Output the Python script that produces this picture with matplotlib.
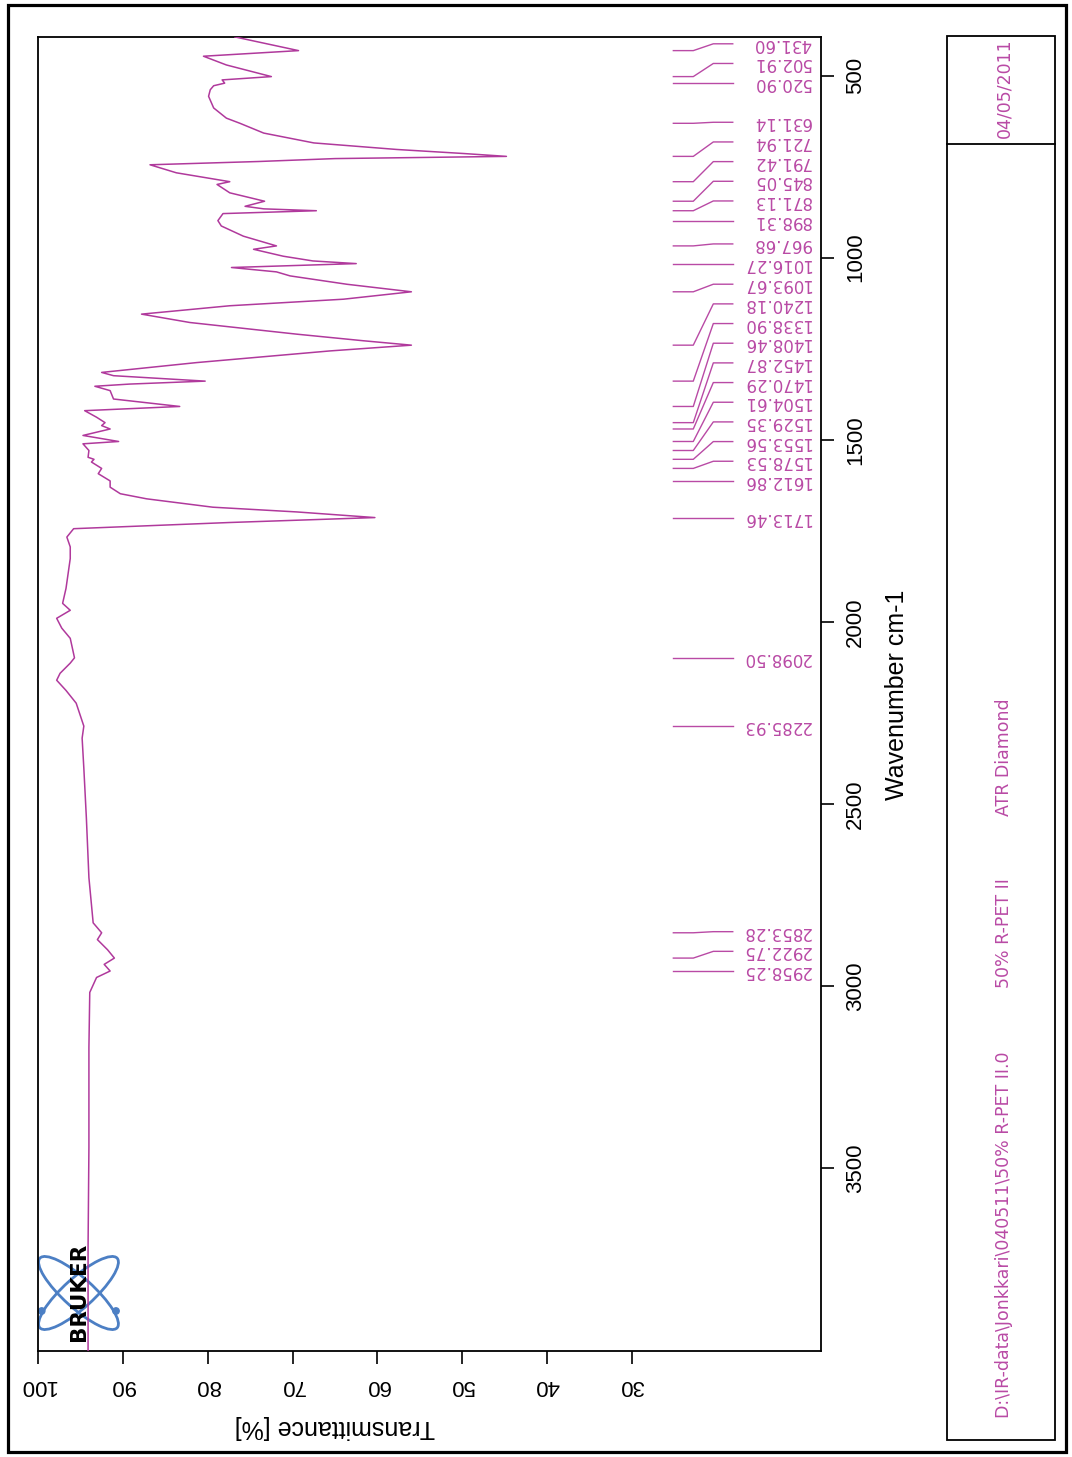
import matplotlib.pyplot as plt
from matplotlib.patches import Circle, Ellipse, Rectangle
from matplotlib.transforms import Affine2D

W, H = 1072, 1457

# ATR-FTIR spectrum, 50% R-PET II (wavenumber in cm-1, transmittance in %)
wavenumber = [
    394, 431.60, 447, 471, 502.91, 512, 520.90, 528, 539, 557, 589, 617,
    631.14, 658, 685, 703, 714, 721.94, 728, 736, 745, 767, 791.42, 799,
    822, 845.05, 859, 866, 871.13, 879, 898.31, 913, 941, 967.68, 977, 996,
    1009, 1016.27, 1027, 1039, 1050, 1073, 1093.67, 1114, 1132, 1155, 1178,
    1210, 1228, 1240.18, 1256, 1288, 1315, 1324, 1338.90, 1347, 1353, 1365,
    1388, 1408.46, 1420, 1438, 1452.87, 1461, 1470.29, 1488, 1504.61, 1511,
    1529.35, 1548, 1553.56, 1561, 1578.53, 1593, 1612.86, 1630, 1648, 1662,
    1685, 1698, 1713.46, 1727, 1744, 1767, 1794, 1826, 1908, 1949, 1968,
    1990, 2017, 2045, 2098.50, 2113, 2141, 2160, 2188, 2223, 2285.93, 2319,
    2401, 2538, 2702, 2826, 2853.28, 2872, 2900, 2922.75, 2940, 2958.25,
    2976, 3017, 3168, 3442, 3716, 4000,
]
transmittance = [
    76.8, 69.3, 80.5, 77.8, 72.5, 78.3, 78.0, 79.3, 79.7, 79.9, 79.3, 77.8,
    76.2, 73.4, 67.5, 57.7, 49.9, 44.8, 65.0, 74.0, 86.8, 83.7, 77.4, 78.9,
    77.4, 73.3, 75.6, 73.4, 67.2, 78.2, 78.8, 78.4, 75.8, 71.9, 74.6, 71.1,
    67.6, 62.5, 77.2, 71.9, 70.3, 63.6, 56.0, 64.0, 77.4, 87.8, 82.1,
    69.5, 61.7, 56.0, 65.6, 81.3, 92.5, 91.1, 80.3, 89.2, 93.3, 91.5,
    91.1, 83.3, 94.5, 93.1, 92.1, 92.5, 91.5, 94.7, 90.5, 94.7,
    94.0, 94.1, 93.4, 93.7, 92.5, 92.9, 91.5, 91.5, 90.3, 87.2,
    79.4, 69.5, 60.3, 77.4, 95.8, 96.6, 96.2, 96.2, 96.7, 97.1, 96.2,
    97.8, 97.2, 96.2, 95.7, 96.2, 97.4, 97.8, 96.7, 95.5, 94.6, 94.8,
    94.6, 94.3, 94.0, 93.5, 92.5, 93.0, 91.8, 91.0, 92.2, 91.5,
    93.1, 93.9, 94.0, 94.0, 94.1, 94.1,
]

peaks = [
    431.60, 502.91, 520.90, 631.14, 721.94, 791.42, 845.05, 871.13, 898.31,
    967.68, 1016.27, 1093.67, 1240.18, 1338.90, 1408.46, 1452.87, 1470.29,
    1504.61, 1529.35, 1553.56, 1578.53, 1612.86, 1713.46, 2098.50, 2285.93,
    2853.28, 2922.75, 2958.25,
]

t_ticks = [100, 90, 80, 70, 60, 50, 40, 30]
wn_ticks = [500, 1000, 1500, 2000, 2500, 3000, 3500]

date_text = "04/05/2011"
sample_texts = [
    ("ATR Diamond", 757),
    ("50% R-PET II", 933),
    (r"D:\IR-data\Jonkkari\040511\50% R-PET II.0", 1235),
]

LINE = "#b0399c"
PINK = "#b94aa5"


def spread_labels(values, gap=54.0):
    # walk down from the highest wavenumber and push crowded labels upward
    out = {}
    last = None
    for v in sorted(values, reverse=True):
        p = v if last is None else min(v, last - gap)
        out[v] = p
        last = p
    return out


plt.rcParams["font.family"] = ["Liberation Sans", "DejaVu Sans"]

fig = plt.figure(figsize=(W / 100, H / 100), dpi=100)
px = Affine2D().scale(1, -1).translate(0, H)


def fx(x):
    return x / W


def fy(y):
    return 1 - y / H


ax = fig.add_axes([fx(38), fy(1350.5), fx(821) - fx(38), fy(36.7) - fy(1350.5)])
ax.plot(transmittance, wavenumber, color=LINE, lw=1.1, zorder=5)
ax.set_xlim(100, 7.73)
ax.set_ylim(4000, 393.4)

for s in ax.spines.values():
    s.set_linewidth(1.3)

ax.set_xticks(t_ticks)
ax.set_yticks(wn_ticks)
ax.yaxis.tick_right()
ax.tick_params(axis="y", right=True, left=False, labelright=True, labelleft=False,
               labelrotation=90, length=9.5, width=1.2, pad=8, labelsize=16)
ax.tick_params(axis="x", labelrotation=180, length=9, width=1.2, pad=9, labelsize=16)
for lab in ax.get_yticklabels():
    lab.set_va("center")

# peak picking annotations
label_pos = spread_labels(peaks)
for pk in peaks:
    lp = label_pos[pk]
    ax.plot([25.13, 22.78, 20.42, 18.13], [pk, pk, lp, lp], color=PINK, lw=1.0, zorder=4)
    ax.text(8.9, lp, f"{pk:.2f}", rotation=180, rotation_mode="anchor",
            ha="left", va="center", color=PINK, fontsize=12, family="DejaVu Sans")

# Bruker logo
logo_c = (78.5, 1293)
for ang in (42, -42):
    ax.add_patch(Ellipse(logo_c, 104, 30, angle=ang, fill=False, ec="#4c7fc4",
                         lw=2.0, transform=px, clip_on=False, zorder=2))
for cx in (41.7, 116):
    ax.add_patch(Circle((cx, 1311), 3.2, color="#4c7fc4", transform=px,
                        clip_on=False, zorder=2))
ax.text(79, 1292, "BRUKER", transform=px, rotation=90, ha="center", va="center",
        fontsize=15.5, fontweight="bold", family="DejaVu Sans", color="black", zorder=3)

fig.text(fx(897), fy(695), "Wavenumber cm-1", rotation=90, ha="center", va="center",
         fontsize=18)
fig.text(fx(335), fy(1427), "Transmittance [%]", rotation=180, ha="center",
         va="center", fontsize=18)

# info panel on the right
fig.add_artist(Rectangle((947, 36), 108, 1404, transform=px, fill=False,
                         ec="black", lw=1.3))
fig.add_artist(plt.Line2D([947, 1055], [144, 144], transform=px, color="black", lw=1.3))
fig.text(fx(1004), fy(88), date_text, rotation=90, ha="center", va="center",
         color=PINK, fontsize=12.5, family="DejaVu Sans")
for txt, yc in sample_texts:
    fig.text(fx(1004), fy(yc), txt, rotation=90, ha="center", va="center",
             color=PINK, fontsize=12.5, family="DejaVu Sans")

# page frame
fig.add_artist(Rectangle((8, 5), 1058, 1447, transform=px, fill=False,
                         ec="black", lw=2.3))

fig.savefig("out.png", dpi=100)
